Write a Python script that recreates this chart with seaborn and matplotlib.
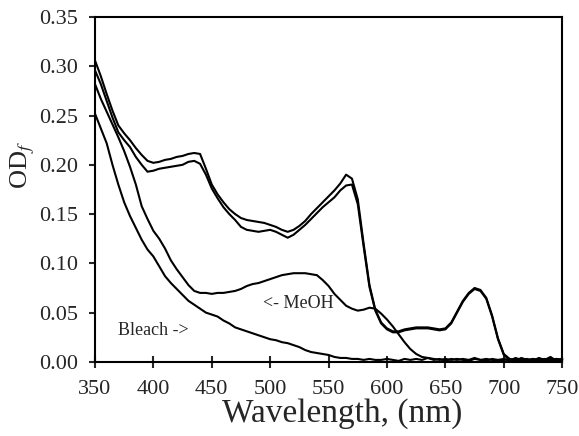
import numpy as np
import pandas as pd
import matplotlib
matplotlib.use("Agg")
import matplotlib.pyplot as plt
import seaborn as sns

# wavelength grid, nm (5 nm steps)
wavelength = list(range(350, 755, 5))

# upper of the two top spectra
od_top_a = [
    .306, .290, .272, .255, .240, .232, .225, .217, .210, .204,
    .202, .203, .205, .206, .208, .209, .211, .212, .211, .196,
    .180, .170, .162, .155, .150, .146, .144, .143, .142, .141,
    .139, .137, .134, .132, .134, .138, .143, .150, .156, .162,
    .168, .174, .181, .190, .186, .165, .120, .078, .053, .040,
    .034, .031, .031, .033, .034, .035, .035, .035, .034, .033,
    .034, .040, .051, .062, .070, .075, .073, .065, .047, .024,
    .008, .003, .002, .003, .002, .003, .002, .003, .002, .003,
    .002,
]
# lower of the two top spectra
od_top_b = [
    .296, .282, .265, .248, .233, .225, .218, .208, .200, .193,
    .194, .196, .197, .198, .199, .200, .203, .204, .201, .190,
    .176, .166, .157, .150, .144, .137, .134, .133, .132, .133,
    .134, .132, .129, .126, .129, .134, .139, .145, .151, .157,
    .162, .167, .174, .179, .180, .160, .117, .076, .052, .039,
    .033, .030, .030, .032, .033, .034, .034, .034, .033, .032,
    .033, .039, .050, .061, .069, .074, .072, .064, .046, .023,
    .007, .002, .001, .002, .001, .003, .001, .002, .001, .003,
    .002,
]
# MeOH
od_meoh = [
    .282, .267, .254, .241, .228, .214, .198, .180, .158, .145,
    .133, .125, .115, .103, .094, .086, .078, .072, .070, .070,
    .069, .070, .070, .071, .072, .074, .077, .079, .080, .082,
    .084, .086, .088, .089, .090, .090, .090, .089, .088, .083,
    .077, .069, .063, .057, .054, .052, .053, .055, .054, .049,
    .043, .036, .028, .020, .013, .008, .005, .004, .003, .002,
    .003, .002, .003, .002, .001, .003, .002, .003, .002, .001,
    .002, .003, .001, .004, .002, .001, .003, .002, .004, .001,
    .003,
]
# Bleach
od_bleach = [
    .252, .237, .222, .200, .180, .162, .148, .136, .124, .114,
    .107, .097, .087, .080, .074, .068, .062, .058, .054, .050,
    .048, .046, .042, .039, .035, .033, .031, .029, .027, .025,
    .023, .022, .020, .019, .017, .015, .012, .010, .009, .008,
    .007, .005, .004, .004, .003, .003, .002, .003, .002, .002,
    .003, .002, .001, .003, .002, .003, .002, .004, .002, .003,
    .001, .003, .002, .003, .002, .004, .002, .001, .003, .002,
    .003, .001, .004, .002, .003, .001, .004, .002, .005, .001,
    .003,
]

series = {"top_a": od_top_a, "top_b": od_top_b, "meoh": od_meoh, "bleach": od_bleach}
frames = []
for name, vals in series.items():
    assert len(vals) == len(wavelength), name
    frames.append(pd.DataFrame({"wavelength": wavelength, "od": vals, "curve": name}))
df = pd.concat(frames, ignore_index=True)

sns.set_style("ticks")
plt.rcParams["font.family"] = ["Liberation Serif", "DejaVu Serif"]
plt.rcParams["mathtext.fontset"] = "stix"

fig = plt.figure(figsize=(5.79, 4.36), dpi=100)
ax = fig.add_axes([0.164, 0.170, 0.807, 0.791])

sns.lineplot(data=df, x="wavelength", y="od", hue="curve",
             palette=["black"] * 4, estimator=None, sort=False,
             linewidth=1.5, legend=False, ax=ax, clip_on=False)

ax.set_xlim(350, 750)
ax.set_ylim(0, 0.35)
ax.set_xticks(np.arange(350, 751, 50))
ax.set_yticks(np.arange(0, 0.351, 0.05))
ax.yaxis.set_major_formatter(matplotlib.ticker.FormatStrFormatter("%.2f"))
ax.tick_params(axis="x", direction="inout", length=8, width=1.5, labelsize=16, pad=9)
ax.tick_params(axis="y", direction="out", length=4, width=1.5, labelsize=16, pad=8)
for s in ax.spines.values():
    s.set_linewidth(1.5)
    s.set_color("black")

ax.set_xlabel("Wavelength, (nm)", fontsize=24)
ax.set_ylabel("OD$_f$", fontsize=19)
ax.xaxis.set_label_coords(0.529, -0.105)
ax.yaxis.set_label_coords(-0.124, 0.571)

ax.text(370, 0.032, "Bleach ->", fontsize=13, va="center", ha="left")
ax.text(494, 0.059, "<- MeOH", fontsize=13, va="center", ha="left")

fig.savefig("out.png", dpi=100)
